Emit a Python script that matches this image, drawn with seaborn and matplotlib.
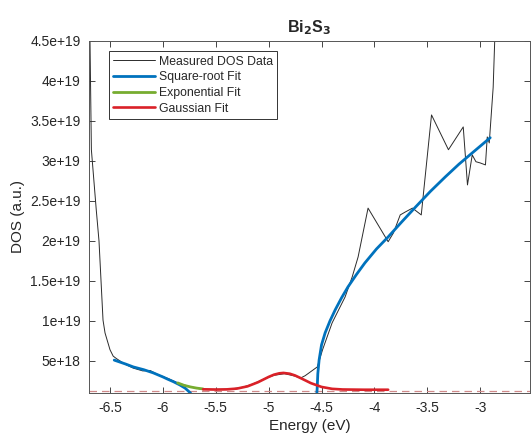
import numpy as np
import pandas as pd
import matplotlib
matplotlib.use("Agg")
import matplotlib.pyplot as plt
from matplotlib.ticker import FuncFormatter
import seaborn as sns

# measured DOS (energy in eV, DOS in 1e18 a.u.)
meas_e = [-6.69, -6.676, -6.63, -6.604, -6.566, -6.547, -6.5, -6.47, -6.44, -6.36, -6.28, -6.19, -6.12,
          -6.05, -5.95, -5.85, -5.75, -5.65, -5.55, -5.45, -5.35, -5.25, -5.15, -5.05, -4.95, -4.85,
          -4.75, -4.7, -4.655, -4.54, -4.49, -4.40, -4.277, -4.21, -4.154, -4.06, -3.87, -3.82, -3.756,
          -3.71, -3.64, -3.557, -3.46, -3.30, -3.16, -3.12, -3.075, -3.04, -3.0, -2.95, -2.933,
          -2.914, -2.877, -2.86, -2.84]
meas_d = [46, 31.4, 23.9, 20.0, 10.1, 8.5, 6.4, 5.6, 5.3, 4.6, 4.1, 3.75, 3.8,
          3.3, 2.8, 2.2, 1.8, 1.5, 1.45, 1.45, 1.5, 1.7, 2.1, 2.7, 3.2, 3.4,
          3.1, 2.85, 3.15, 4.25, 6.4, 9.75, 13.0, 15.5, 18.0, 24.1, 19.9, 21.0, 23.25,
          23.6, 24.1, 23.25, 35.75, 31.4, 34.25, 27.0, 30.75, 29.9, 29.75, 29.5, 33.0,
          32.25, 39.2, 46.0, 55.0]

# square-root fits (two branches)
sqrt1_e = [-6.46, -6.35, -6.28, -6.18, -6.09, -6.0, -5.96, -5.9, -5.84, -5.79, -5.74, -5.72]
sqrt1_d = [5.1, 4.6, 4.25, 3.9, 3.5, 3.0, 2.75, 2.4, 2.0, 1.6, 1.0, 0.5]
sqrt2_e = [-4.546, -4.541, -4.535, -4.523, -4.5, -4.466, -4.42, -4.37, -4.31, -4.25, -4.17, -4.09, -3.98,
           -3.87, -3.74, -3.61, -3.47, -3.33, -3.2, -3.075, -2.905]
sqrt2_d = [0.5, 1.6, 3.4, 5.1, 7.0, 8.5, 10.0, 11.4, 12.9, 14.25, 15.8, 17.25, 19.0,
           20.5, 22.4, 24.25, 26.2, 28.0, 29.6, 31.0, 32.9]

# exponential fit
exp_e = [-5.86, -5.8, -5.74, -5.68, -5.62]
exp_d = [2.25, 1.95, 1.75, 1.6, 1.5]

# gaussian fit
gauss_e = [-5.62, -5.5, -5.4, -5.3, -5.2, -5.1, -5.0, -4.95, -4.9, -4.86, -4.8, -4.75, -4.7,
           -4.6, -4.5, -4.4, -4.3, -4.1, -3.87]
gauss_d = [1.45, 1.42, 1.44, 1.54, 1.82, 2.34, 3.0, 3.28, 3.45, 3.5, 3.4, 3.18, 2.87,
           2.22, 1.75, 1.51, 1.43, 1.4, 1.4]

baseline = 1.3  # background level, 1e18

scale = 1e18

sns.set_theme(style="ticks")
plt.rcParams["font.family"] = ["Liberation Sans", "DejaVu Sans"]

fig = plt.figure(figsize=(5.32, 4.4), dpi=100)
ax = fig.add_axes([0.167, 0.107, 0.829, 0.8])

blue = "#0072BD"
green = "#77AC30"
red = "#DA2128"

def draw(e, d, **kw):
    df = pd.DataFrame({"E": e, "DOS": np.array(d) * scale})
    sns.lineplot(data=df, x="E", y="DOS", sort=False, estimator=None, ax=ax, **kw)

draw(meas_e, meas_d, color="#2b2b2b", lw=0.7, label="Measured DOS Data")
draw(sqrt1_e, sqrt1_d, color=blue, lw=2.0, label="Square-root Fit")
draw(sqrt2_e, sqrt2_d, color=blue, lw=2.0)
draw(exp_e, exp_d, color=green, lw=2.0, label="Exponential Fit")
draw(gauss_e, gauss_d, color=red, lw=1.9, label="Gaussian Fit")
ax.axhline(baseline * scale, color="#d08a8a", lw=0.9, ls=(0, (6, 4)), zorder=1)

ax.set_xlim(-6.7, -2.53)
ax.set_ylim(1.0e18, 4.5e19)
ax.set_xticks([-6.5, -6, -5.5, -5, -4.5, -4, -3.5, -3])
ax.set_yticks(np.arange(5e18, 4.51e19, 5e18))
ax.xaxis.set_major_formatter(FuncFormatter(lambda v, p: "%g" % v))
ax.yaxis.set_major_formatter(FuncFormatter(lambda v, p: "%g" % v))

ax.tick_params(direction="in", top=True, right=True, length=4, width=0.6,
               labelsize=10, colors="#262626", pad=6)
for s in ax.spines.values():
    s.set_color("#555555")
    s.set_linewidth(0.7)

ax.set_xlabel("Energy (eV)", fontsize=11, color="#262626", labelpad=3)
ax.set_ylabel("DOS (a.u.)", fontsize=11, color="#262626", labelpad=4)
ax.set_title("Bi$_\\mathbf{2}$S$_\\mathbf{3}$", fontsize=11.5, fontweight="bold", pad=6)

leg = ax.legend(loc="upper left", bbox_to_anchor=(0.045, 0.97), fontsize=8.8,
                frameon=True, fancybox=False, framealpha=1, edgecolor="#333333",
                handlelength=3.4, borderpad=0.35, labelspacing=0.3, handletextpad=0.35,
                borderaxespad=0)
leg.get_frame().set_linewidth(0.7)

fig.savefig("out.png", dpi=100)
